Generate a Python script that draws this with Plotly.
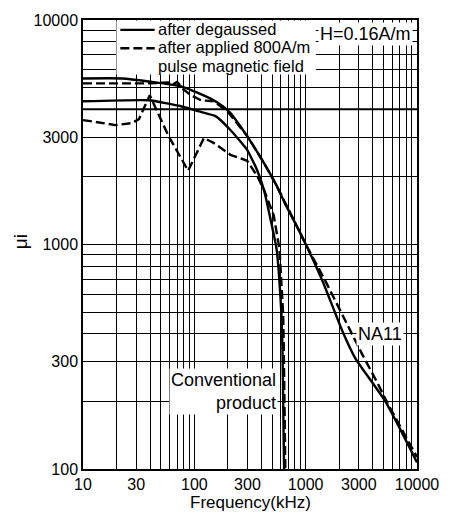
import plotly.graph_objects as go

# ---------------- data ----------------
na11_deg_f = [10, 22.5, 39, 76, 149, 207, 298, 421, 548, 645, 823, 1009, 1425, 2140, 2786, 5130, 10000]
na11_deg_v = [5490, 5490, 5320, 5060, 4390, 3890, 3040, 2310, 1830, 1540, 1220, 995, 683, 411, 312, 202, 107]

na11_pulse_f = [10, 39, 58.6, 64, 70, 80, 93.5, 115, 149, 198, 298, 421, 548, 823, 1009, 1514, 2274, 3213, 4446, 5446, 10000]
na11_pulse_v = [5220, 5220, 5270, 5150, 5300, 4900, 4620, 4390, 4345, 3925, 3044, 2313, 1831, 1219, 995, 683, 455, 325, 240, 196, 113]

conv_deg_f = [10, 39, 76, 108, 155, 211, 298, 365, 421, 475, 548, 582, 606, 619, 630, 640, 650]
conv_deg_v = [4345, 4390, 4130, 3925, 3730, 3236, 2640, 2154, 1758, 1350, 955, 683, 488, 346, 177, 100, 80]

conv_pulse_f = [10, 19.6, 27.6, 31.8, 39.8, 58.6, 88, 122, 149, 211, 298, 365, 421, 516, 582, 606, 628, 636, 645, 652, 660]
conv_pulse_v = [3583, 3404, 3474, 3618, 4618, 3044, 2132, 2983, 2835, 2509, 2360, 2027, 1758, 1350, 955, 683, 488, 346, 177, 100, 80]

x_tickvals = [10, 30, 100, 300, 1000, 3000, 10000]
x_ticktext = ["10", "30", "100", "300", "1000", "3000", "10000"]
y_tickvals = [100, 300, 1000, 3000, 10000]
y_ticktext = ["100", "300", "1000", "3000", "10000"]
x_minor = [m * d for d in (10, 100, 1000) for m in range(1, 10)] + [10000]
y_minor = [m * d for d in (100, 1000) for m in range(1, 10)] + [10000]
ref_level = 4000

legend_labels = ["after degaussed", "after applied 800A/m", "pulse magnetic field"]

FONT = "Liberation Sans, Arial, sans-serif"
LW = 2.4
DASH = "9px,4px"

# plot area geometry (pixels) used for paper-coordinate placement of decorations
L, R, T, B = 83, 423, 16, 469
def px(x):
    return (x - L) / (R - L)
def py(y):
    return (B - y) / (B - T)

fig = go.Figure()
fig.add_trace(go.Scatter(x=na11_deg_f, y=na11_deg_v, mode="lines", showlegend=False,
                         line=dict(color="black", width=LW, shape="spline", smoothing=0.6)))
fig.add_trace(go.Scatter(x=na11_pulse_f, y=na11_pulse_v, mode="lines", showlegend=False,
                         line=dict(color="black", width=LW, dash=DASH)))
fig.add_trace(go.Scatter(x=conv_deg_f, y=conv_deg_v, mode="lines", showlegend=False,
                         line=dict(color="black", width=LW, shape="spline", smoothing=0.4)))
fig.add_trace(go.Scatter(x=conv_pulse_f, y=conv_pulse_v, mode="lines", showlegend=False,
                         line=dict(color="black", width=LW, dash=DASH)))

fig.add_shape(type="line", xref="paper", x0=0, x1=1, yref="y", y0=ref_level, y1=ref_level,
              line=dict(color="black", width=2), layer="below")

# legend box (manual, to match the reference's tight layout)
fig.add_shape(type="rect", xref="paper", yref="paper", x0=px(117), x1=px(320), y0=py(71), y1=py(16.5),
              fillcolor="white", line=dict(width=0), layer="above")
fig.add_shape(type="line", xref="paper", yref="paper", x0=px(121), x1=px(156), y0=py(26), y1=py(26),
              line=dict(color="black", width=LW), layer="above")
fig.add_shape(type="line", xref="paper", yref="paper", x0=px(121), x1=px(156), y0=py(44.5), y1=py(44.5),
              line=dict(color="black", width=LW, dash=DASH), layer="above")
for lab, yc in zip(legend_labels, [25, 43.5, 62]):
    fig.add_annotation(text=lab, xref="paper", yref="paper", x=px(158), y=py(yc),
                       xanchor="left", yanchor="middle", showarrow=False, borderpad=0,
                       font=dict(size=16.5, color="black", family=FONT))

grid = "#000000"
GW = 1.2
fig.update_xaxes(type="log", range=[1, 4], tickmode="array", tickvals=x_tickvals, ticktext=x_ticktext,
                 showgrid=True, gridcolor=grid, gridwidth=GW, zeroline=False,
                 showline=True, linecolor="black", linewidth=1.5, mirror=True, ticks="",
                 tickfont=dict(size=16, color="black", family=FONT),
                 minor=dict(tickmode="array", tickvals=x_minor, showgrid=True, gridcolor=grid, gridwidth=GW, ticks=""))
fig.update_yaxes(type="log", range=[2, 4], tickmode="array", tickvals=y_tickvals, ticktext=y_ticktext,
                 showgrid=True, gridcolor=grid, gridwidth=GW, zeroline=False,
                 showline=True, linecolor="black", linewidth=1.5, mirror=True, ticks="",
                 tickfont=dict(size=16, color="black", family=FONT),
                 minor=dict(tickmode="array", tickvals=y_minor, showgrid=True, gridcolor=grid, gridwidth=GW, ticks=""))

annos = [
    dict(text="H=0.16A/m", x=px(419), y=py(30), xanchor="right", yanchor="middle"),
    dict(text="NA11", x=px(361), y=py(333), xanchor="left", yanchor="middle"),
    dict(text="Conventional<br>product", x=px(281), y=py(391), xanchor="right", yanchor="middle", align="right"),
]
for a in annos:
    fig.add_annotation(xref="paper", yref="paper", showarrow=False, bgcolor="white", borderpad=1,
                       font=dict(size=18, color="black", family=FONT), **a)

fig.add_annotation(text="Frequency(kHz)", xref="paper", yref="paper", x=0.5, y=py(503),
                   xanchor="center", yanchor="middle", showarrow=False,
                   font=dict(size=17, color="black", family=FONT))
fig.add_annotation(text="μi", xref="paper", yref="paper", x=px(19), y=py(240), textangle=-90,
                   xanchor="center", yanchor="middle", showarrow=False,
                   font=dict(size=19, color="black", family=FONT))

fig.update_layout(
    width=451, height=513,
    margin=dict(l=L, r=451 - R, t=T, b=513 - B),
    paper_bgcolor="white", plot_bgcolor="white",
    font=dict(family=FONT, color="black"),
    showlegend=False,
)

fig.write_html("out.html")
